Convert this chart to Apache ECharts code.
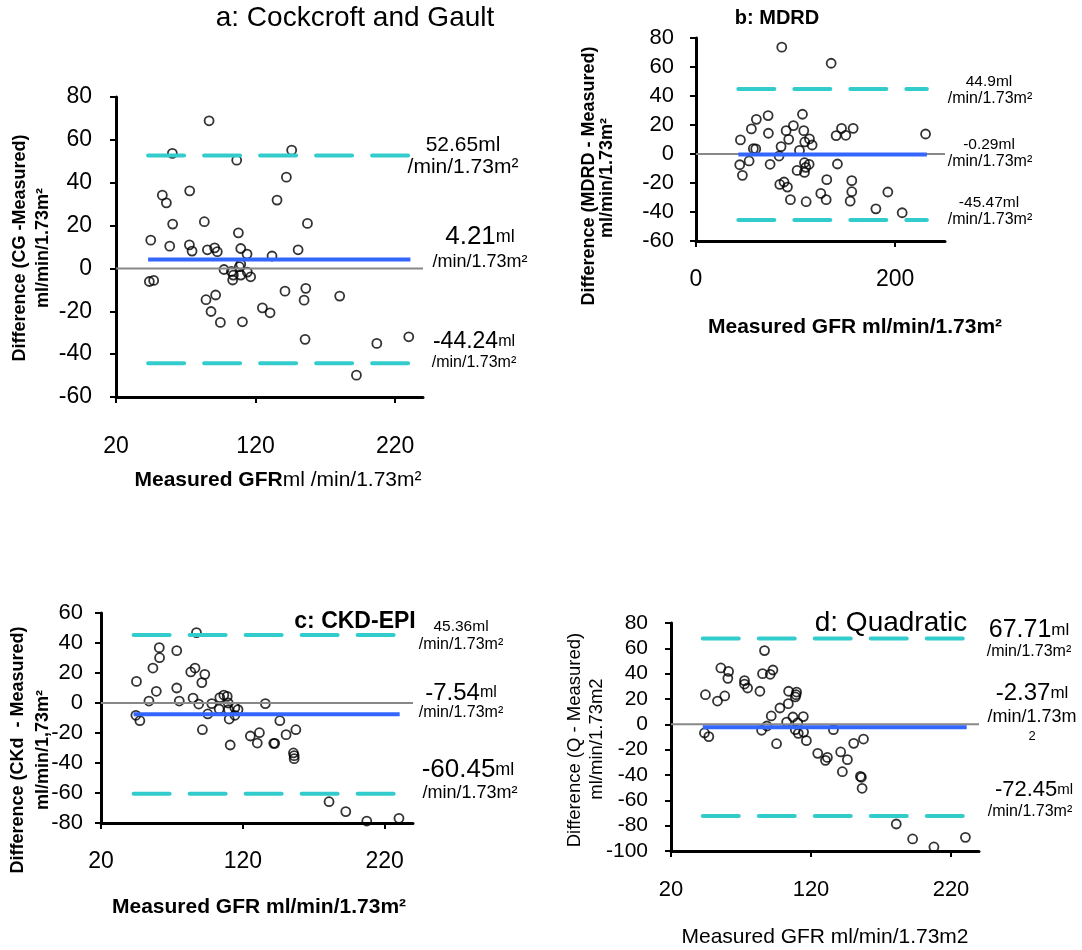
<!DOCTYPE html>
<html><head><meta charset="utf-8">
<script src="https://cdn.jsdelivr.net/npm/echarts@6/dist/echarts.min.js"></script>
<style>html,body{margin:0;padding:0;background:#fff}#c{width:1082px;height:950px}</style>
</head><body><div id="c"></div>
<script>
// Panel a: Cockcroft and Gault
const cgX = [86.7,60.4,106.5,145.9,142.1,72.8,53.2,56.1,135.4,60.6,83.3,157.2,107.7,44.9,58.5,72.6,74.5,85.5,90.7,92.6,109.4,113.9,131.8,150.5,109.4,108.4,97.4,102.7,104.1,103.6,109.4,114.1,116.5,43.9,47.0,84.5,91.4,88.1,94.8,110.6,124.9,130.4,141.1,156.0,154.8,155.5,180.3,206.9,229.8,192.3];
const cgY = [68.9,53.7,50.5,55.2,42.6,36.2,34.2,30.6,31.9,20.7,21.8,21.0,16.6,13.2,10.4,11.0,8.1,8.7,9.6,7.8,9.3,6.7,5.8,8.7,1.9,0.8,-0.5,-1.4,-3.1,-5.4,-3.1,-1.7,-3.9,-6.1,-5.6,-14.6,-12.4,-20.1,-25.2,-24.9,-18.4,-20.7,-10.6,-9.3,-14.8,-33.1,-12.9,-35.0,-31.9,-49.8];
// Panel b: MDRD
const mdrdX = [86.1,135.7,44.6,60.6,55.6,72.4,72.7,57.6,60.0,43.9,46.6,53.3,74.4,85.4,83.4,90.5,93.1,97.8,106.9,108.2,103.9,109.2,113.9,116.6,108.9,113.6,110.2,101.5,108.9,84.1,88.4,91.8,94.8,110.6,125.3,130.7,131.3,142.0,140.7,146.1,150.4,157.8,156.4,156.4,154.8,180.6,192.6,207.0,230.5];
const mdrdY = [73.7,62.6,9.7,23.9,17.3,26.5,14.3,3.7,3.5,-7.4,-14.7,-4.8,-7.1,5.1,-1.4,16.1,10.1,19.6,27.4,16.1,2.5,8.3,10.4,6.2,-6.0,-7.1,-9.2,-11.3,-12.7,-21.0,-19.3,-22.8,-31.5,-32.9,-27.2,-31.5,-17.7,-6.9,12.7,17.7,12.9,17.7,-18.4,-26.0,-32.5,-37.8,-26.2,-40.5,13.8];
// Panel c: CKD-EPI
const ckdX = [87.3,61.1,61.3,73.4,56.6,45.0,59.0,53.8,73.4,75.2,83.3,86.3,93.2,91.1,84.9,88.9,98.1,95.3,91.5,44.6,47.4,103.3,103.8,106.6,109.0,109.7,109.9,114.4,116.6,114.4,110.4,111.1,125.3,131.7,130.2,135.9,141.8,142.5,146.1,150.5,157.4,155.7,156.2,156.2,180.8,192.6,207.4,230.1];
const ckdY = [46.9,36.9,30.2,34.9,23.3,14.4,7.8,1.3,10.0,1.3,20.7,23.3,19.1,13.6,3.3,-0.7,-0.4,-7.3,-17.8,-8.2,-11.8,-4.0,3.6,5.3,4.4,0.0,-4.4,-3.1,-4.4,-8.2,-10.7,-28.0,-22.0,-19.8,-26.7,-0.4,-26.9,-26.9,-11.8,-21.1,-17.8,-33.3,-35.1,-37.1,-65.8,-72.4,-78.7,-76.9];
// Panel d: Quadratic
const quadX = [86.8,55.6,61.1,60.6,72.5,72.5,74.7,85.4,90.9,92.8,44.6,53.2,58.4,83.5,104.0,109.7,109.3,108.8,103.8,97.8,91.6,107.1,114.5,102.6,110.5,88.5,84.7,108.8,110.9,114.7,116.7,95.4,43.9,47.0,136.0,124.8,130.3,131.7,141.2,146.0,142.4,150.5,157.5,155.3,156.0,156.5,180.9,192.6,207.8,230.3];
const quadY = [58.2,44.5,41.8,36.3,34.5,31.8,28.7,40.0,39.5,42.9,23.4,18.4,22.4,26.1,26.1,25.5,23.4,21.6,16.3,12.9,6.6,5.8,6.1,1.8,1.1,-1.3,-4.7,-4.2,-7.1,-6.1,-12.9,-15.3,-6.8,-9.7,-4.2,-22.9,-28.4,-26.1,-21.8,-27.9,-37.4,-15.0,-11.6,-41.1,-41.8,-50.5,-78.7,-90.5,-96.8,-89.2];

// [upper LoA, mean, lower LoA]
const cgStats = [52.65, 4.21, -44.24];
const mdrdStats = [44.9, -0.29, -45.47];
const ckdStats = [45.36, -7.54, -60.45];
const quadStats = [67.71, -2.37, -72.45];

// x extent of the mean/LoA lines
const cgSpan = [43, 231];
const mdrdSpan = [42.5, 231.8];
const ckdSpan = [43, 230.6];
const quadSpan = [42.7, 231.2];

// axis ranges and tick labels
const xRangeA = [20, 240], xTicksA = [20, 120, 220];
const xRangeB = [0, 250], xTicksB = [0, 200];
const xRangeC = [20, 240], xTicksC = [20, 120, 220];
const xRangeD = [20, 240], xTicksD = [20, 120, 220];
const yRangeA = [-60, 80], yRangeB = [-60, 80], yRangeC = [-80, 60], yRangeD = [-100, 80];

const FONT = "'Liberation Sans', Arial, sans-serif";
const zip = (xs, ys) => xs.map((x, i) => [x, ys[i]]);

function xAx(gi, range, ticks, fs, margin) {
  return {
    type: 'value', gridIndex: gi, min: range[0], max: range[1],
    splitLine: { show: false },
    axisLine: { show: true, onZero: false, lineStyle: { color: '#000', width: 3 } },
    axisTick: { show: true, length: 6, customValues: ticks, lineStyle: { color: '#000', width: 2 } },
    axisLabel: { customValues: ticks, fontSize: fs, color: '#000', fontFamily: FONT, margin: margin }
  };
}
function yAx(gi, range, fs, margin) {
  return {
    type: 'value', gridIndex: gi, min: range[0], max: range[1], interval: 20,
    splitLine: { show: false },
    axisLine: { show: true, onZero: false, lineStyle: { color: '#000', width: 3 } },
    axisTick: { show: true, length: 6, lineStyle: { color: '#000', width: 2 } },
    axisLabel: { fontSize: fs, color: '#000', fontFamily: FONT, margin: margin }
  };
}
function panelSeries(gi, xs, ys, stats, span, xRange) {
  const base = { xAxisIndex: gi, yAxisIndex: gi, silent: true, animation: false };
  return [
    Object.assign({ type: 'line', data: [[xRange[0], 0], [xRange[1], 0]], symbol: 'none',
      lineStyle: { color: '#888', width: 2 } }, base),
    Object.assign({ type: 'scatter', data: zip(xs, ys), symbol: 'circle', symbolSize: 9,
      itemStyle: { color: 'rgba(0,0,0,0)', borderColor: '#000', borderWidth: 1.8 } }, base),
    Object.assign({ type: 'line', data: [[span[0], stats[0]], [span[1], stats[0]]], symbol: 'none',
      lineStyle: { color: '#33CCCC', width: 4, type: [36, 20], cap: 'round' } }, base),
    Object.assign({ type: 'line', data: [[span[0], stats[1]], [span[1], stats[1]]], symbol: 'none',
      lineStyle: { color: '#3366FF', width: 4 } }, base),
    Object.assign({ type: 'line', data: [[span[0], stats[2]], [span[1], stats[2]]], symbol: 'none',
      lineStyle: { color: '#33CCCC', width: 4, type: [36, 20], cap: 'round' } }, base)
  ];
}

function T(x, y, text, font, extra) {
  return Object.assign({ type: 'text', x: x, y: y, silent: true,
    style: { text: text, font: font, fill: '#000', align: 'center', verticalAlign: 'middle' } }, extra || {});
}
function R(x, y, text, rich) {
  return { type: 'text', x: x, y: y, silent: true,
    style: { text: text, fill: '#000', align: 'center', verticalAlign: 'middle', rich: rich } };
}
function rot(x, y, text, font) {
  return { type: 'text', x: x, y: y, rotation: Math.PI / 2, silent: true,
    style: { text: text, font: font, fill: '#000', align: 'center', verticalAlign: 'middle' } };
}
const rs = (big, small) => ({
  b: { fontSize: big, fontFamily: FONT, color: '#000' },
  s: { fontSize: small, fontFamily: FONT, color: '#000' }
});

const option = {
  animation: false,
  backgroundColor: '#fff',
  grid: [
    { left: 116, top: 97, width: 307, height: 300 },
    { left: 696, top: 38, width: 249, height: 203 },
    { left: 101, top: 613, width: 312, height: 210 },
    { left: 671, top: 623, width: 308, height: 228 }
  ],
  xAxis: [
    xAx(0, xRangeA, xTicksA, 23, 38),
    xAx(1, xRangeB, xTicksB, 23, 27),
    xAx(2, xRangeC, xTicksC, 23, 27),
    xAx(3, xRangeD, xTicksD, 22, 28)
  ],
  yAxis: [
    yAx(0, yRangeA, 23, 24),
    yAx(1, yRangeB, 22, 22),
    yAx(2, yRangeC, 22, 18),
    yAx(3, yRangeD, 21, 23)
  ],
  series: [].concat(
    panelSeries(0, cgX, cgY, cgStats, cgSpan, xRangeA),
    panelSeries(1, mdrdX, mdrdY, mdrdStats, mdrdSpan, xRangeB),
    panelSeries(2, ckdX, ckdY, ckdStats, ckdSpan, xRangeC),
    panelSeries(3, quadX, quadY, quadStats, quadSpan, xRangeD)
  ),
  graphic: [
    // titles
    T(355, 18, 'a: Cockcroft and Gault', '28px ' + FONT),
    T(777, 18, 'b: MDRD', 'bold 20px ' + FONT),
    T(355, 622, 'c: CKD-EPI', 'bold 23px ' + FONT),
    T(891, 623, 'd: Quadratic', '28px ' + FONT),
    // y axis names
    rot(20, 248, 'Difference (CG -Measured)', 'bold 18px ' + FONT),
    rot(43, 248, 'ml/min/1.73m²', 'bold 18px ' + FONT),
    rot(589, 176, 'Difference (MDRD - Measured)', 'bold 18px ' + FONT),
    rot(607, 178, 'ml/min/1.73m²', 'bold 18px ' + FONT),
    rot(18, 750, 'Difference (CKd  - Measured)', 'bold 18px ' + FONT),
    rot(43, 750, 'ml/min/1,73m²', 'bold 18px ' + FONT),
    rot(575, 740, 'Difference (Q - Measured)', '18.5px ' + FONT),
    rot(597, 739, 'ml/min/1.73m2', '18.5px ' + FONT),
    // x axis names
    R(278, 480, '{b|Measured GFR}{n|ml /min/1.73m²}', {
      b: { fontSize: 21, fontWeight: 'bold', fontFamily: FONT, color: '#000' },
      n: { fontSize: 21, fontFamily: FONT, color: '#000' } }),
    T(855, 327, 'Measured GFR ml/min/1.73m²', 'bold 21px ' + FONT),
    T(259, 907, 'Measured GFR ml/min/1.73m²', 'bold 21px ' + FONT),
    T(825, 937, 'Measured GFR ml/min/1.73m2', '21px ' + FONT),
    // panel a annotations
    T(463, 145, '52.65ml', '21px ' + FONT),
    T(463, 167, '/min/1.73m²', '21px ' + FONT),
    R(480, 237, '{b|4.21}{s|ml}', rs(26, 18)),
    T(480, 262, '/min/1.73m²', '18px ' + FONT),
    R(474, 342, '{b|-44.24}{s|ml}', rs(23, 16)),
    T(474, 363, '/min/1.73m²', '16px ' + FONT),
    // panel b annotations
    T(989, 82, '44.9ml', '15.5px ' + FONT),
    T(990, 99, '/min/1.73m²', '16px ' + FONT),
    T(989, 145, '-0.29ml', '15.5px ' + FONT),
    T(990, 162, '/min/1.73m²', '16px ' + FONT),
    T(989, 203, '-45.47ml', '15.5px ' + FONT),
    T(990, 220, '/min/1.73m²', '16px ' + FONT),
    // panel c annotations
    T(461, 627, '45.36ml', '15.5px ' + FONT),
    T(461, 645, '/min/1.73m²', '16px ' + FONT),
    R(461, 693, '{b|-7.54}{s|ml}', rs(24, 16)),
    T(461, 713, '/min/1.73m²', '16px ' + FONT),
    R(468, 770, '{b|-60.45}{s|ml}', rs(26, 18)),
    T(470, 793, '/min/1.73m²', '18px ' + FONT),
    // panel d annotations
    R(1029, 630, '{b|67.71}{s|ml}', rs(25, 17)),
    T(1029, 652, '/min/1.73m²', '16px ' + FONT),
    R(1032, 693, '{b|-2.37}{s|ml}', rs(24, 17)),
    T(1032, 717, '/min/1.73m', '18px ' + FONT),
    T(1032, 736, '2', '13px ' + FONT),
    R(1034, 790, '{b|-72.45}{s|ml}', rs(22, 15)),
    T(1030, 812, '/min/1.73m²', '16px ' + FONT)
  ]
};
const chart = echarts.init(document.getElementById('c'), null, { renderer: 'canvas' });
chart.setOption(option);
</script>
</body></html>
